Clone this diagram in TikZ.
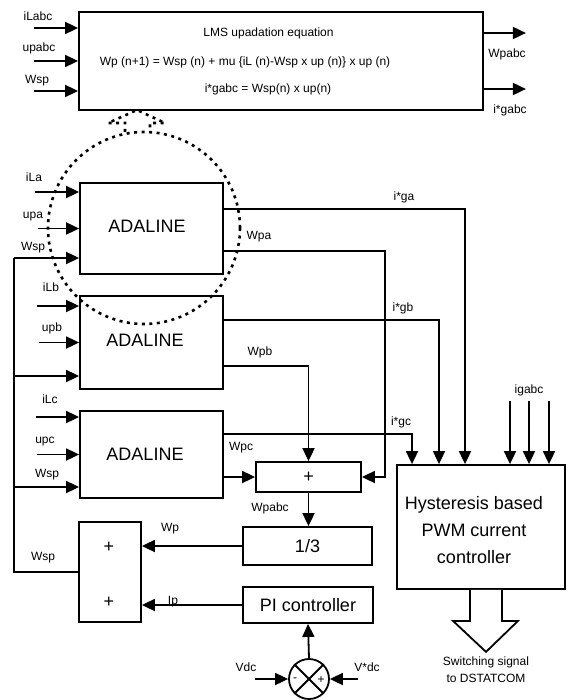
\documentclass[tikz,border=0pt]{standalone}
\usepackage{fontspec}
\setmainfont{Liberation Sans}
\usetikzlibrary{arrows.meta,calc}
\begin{document}
\begin{tikzpicture}[x=1pt,y=-1pt,
  box/.style={draw,line width=1.8pt,inner sep=0pt,anchor=center},
  lbl/.style={font=\fontsize{12}{14}\selectfont,inner sep=0pt,text height=9pt,text depth=0pt},
  big/.style={font=\fontsize{18}{27}\selectfont,inner sep=0pt},
  sig/.style={line width=1.8pt,-{Triangle[length=13pt,width=12pt]}},
  wire/.style={line width=1.8pt},
  dots/.style={line width=2.6pt,dash pattern=on 3pt off 4.5pt},
]
\useasboundingbox (0,0) rectangle (567,700);

% ---------- boxes ----------
\node[box,minimum width=404pt,minimum height=98pt] (L) at (281,61) {};
\node[lbl] (l1) at (268.5,32) {LMS upadation equation};
\node[lbl] (l2) at (245,61) {Wp (n+1) = Wsp (n) + mu \{iL (n)-Wsp x up (n)\} x up (n)};
\node[lbl] (l3) at (268,88) {i*gabc = Wsp(n) x up(n)};

\node[box,minimum width=143pt,minimum height=91pt] (a) at (151.5,228.5) {};
\node[big] (ta) at (147,226) {ADALINE};
\node[box,minimum width=143pt,minimum height=93pt] (b) at (151.5,342.5) {};
\node[big] (tb) at (145,340) {ADALINE};
\node[box,minimum width=143pt,minimum height=87pt] (c) at (151.5,454.5) {};
\node[big] (tc) at (145,454) {ADALINE};

\node[box,big,minimum width=105pt,minimum height=30pt] (S) at (308.5,477) {+};
\node[box,big,minimum width=129pt,minimum height=38pt] (T) at (307.5,546) {1/3};
\node[box,big,minimum width=130pt,minimum height=36pt] (P) at (308,605) {PI controller};
\node[box,minimum width=62pt,minimum height=100pt] (A) at (110,572) {};
\node[big] (ap) at (109,547) {+};
\node[big] (am) at (109,602) {+};
\node[box,minimum width=168pt,minimum height=124pt] (H) at (481,527) {};
\node[big,align=center] (th) at (474,530) {Hysteresis based\\PWM current\\controller};
\node[draw,circle,line width=1.8pt,minimum size=40pt,inner sep=0pt] (C) at (309,679) {};
\draw[wire] (C.north west) -- (C.south east);
\draw[wire] (C.north east) -- (C.south west);
\node[lbl] (cm) at (295,677) {-};
\node[lbl] (cp) at (321,679) {+};

% ---------- LMS inputs / outputs ----------
\draw[sig] ([xshift=-44pt,yshift=33pt]L.west) -- ([yshift=33pt]L.west);
\draw[sig] ([xshift=-44pt]L.west) -- (L.west);
\draw[sig] ([xshift=-44pt,yshift=-30pt]L.west) -- ([yshift=-30pt]L.west);
\draw[sig] ([yshift=28pt]L.east) -- ([xshift=42pt,yshift=28pt]L.east);
\draw[sig] ([yshift=-28pt]L.east) -- ([xshift=42pt,yshift=-28pt]L.east);

% ---------- ADALINE inputs ----------
\draw[sig] ([xshift=-44pt,yshift=36.5pt]a.west) -- ([yshift=36.5pt]a.west);
\draw[sig] ([xshift=-41pt]a.west) -- (a.west);
\draw[sig] ([xshift=-42pt,yshift=36.5pt]b.west) -- ([yshift=36.5pt]b.west);
\draw[sig] ([xshift=-40pt]b.west) -- (b.west);
\draw[sig] ([xshift=-43pt,yshift=37.5pt]c.west) -- ([yshift=37.5pt]c.west);
\draw[sig] ([xshift=-42pt]c.west) -- (c.west);

\coordinate (aw) at ([yshift=-29.5pt]a.west);
\coordinate (bw) at ([yshift=-33.5pt]b.west);
\coordinate (cw) at ([yshift=-32.5pt]c.west);
\coordinate (v) at (14,258);
\draw[sig] (v) -- (aw);
\draw[sig] (bw -| v) -- (bw);
\draw[sig] (cw -| v) -- (cw);
\draw[wire] (v) |- (A.west);

% ---------- ADALINE outputs ----------
\draw[sig] ([yshift=19.5pt]a.east) -| ([xshift=-16pt]H.north);
\draw[sig] ([yshift=22.5pt]b.east) -| ([xshift=-42pt]H.north);
\draw[sig] ([yshift=20.5pt]c.east) -| ([xshift=-69pt]H.north);
\draw[sig] ([yshift=-22.5pt]a.east) -| ([xshift=23pt]S.east) -- (S.east);
\draw[sig] ([yshift=-23.5pt]b.east) -| (S.north);
\draw[sig] ([yshift=-22.5pt]c.east) -- (S.west);

\draw[sig] (S.south) -- (S.south |- T.north);
\draw[sig] (T.west) -- (T.west -| A.east);
\draw[sig] (P.west) -- (P.west -| A.east);
\draw[sig] (C.north) -- (P.south);
\draw[sig] ([xshift=-33pt]C.west) -- (C.west);
\draw[sig] ([xshift=28pt]C.east) -- (C.east);

\draw[sig] ([xshift=29pt,yshift=63pt]H.north) -- ([xshift=29pt]H.north);
\draw[sig] ([xshift=48pt,yshift=63pt]H.north) -- ([xshift=48pt]H.north);
\draw[sig] ([xshift=68pt,yshift=63pt]H.north) -- ([xshift=68pt]H.north);

% hollow output arrow
\coordinate (ha) at ([xshift=5pt]H.south);
\draw[wire,fill=white,line join=miter] ($(ha)+(-16,0)$) -- ($(ha)+(-16,31)$) -- ($(ha)+(-33,31)$)
  -- ($(ha)+(0,62)$) -- ($(ha)+(32,31)$) -- ($(ha)+(16,31)$) -- ($(ha)+(16,0)$);

% ---------- labels ----------
\node[lbl] at (38,16) {iLabc};
\node[lbl] at (39,47) {upabc};
\node[lbl] at (37,79) {Wsp};
\node[lbl] at (507,53) {Wpabc};
\node[lbl] at (510,109) {i*gabc};
\node[lbl] at (34,177) {iLa};
\node[lbl] at (33,214) {upa};
\node[lbl] at (33,246) {Wsp};
\node[lbl] at (51,287) {iLb};
\node[lbl] at (52,327) {upb};
\node[lbl] at (50,399) {iLc};
\node[lbl] at (45,439) {upc};
\node[lbl] at (47,473) {Wsp};
\node[lbl] at (43,556) {Wsp};
\node[lbl] at (404,196) {i*ga};
\node[lbl] at (259,235) {Wpa};
\node[lbl] at (403,307) {i*gb};
\node[lbl] at (260,351) {Wpb};
\node[lbl] at (401,421) {i*gc};
\node[lbl] at (241,446) {Wpc};
\node[lbl] at (529,389) {igabc};
\node[lbl] at (270,507) {Wpabc};
\node[lbl] at (170,527) {Wp};
\node[lbl] at (173,600) {Ip};
\node[lbl] at (246,667) {Vdc};
\node[lbl] at (367,667) {V*dc};
\node[lbl] at (486,661) {Switching signal};
\node[lbl] at (486,678) {to DSTATCOM};

% ---------- dotted highlight ----------
\draw[dots] (144,228) circle[radius=96];
\draw[dots] (125,132) -- (125,123) -- (108,123) -- (137,110) -- (165,123) -- (150,123) -- (150,132);
\end{tikzpicture}
\end{document}
